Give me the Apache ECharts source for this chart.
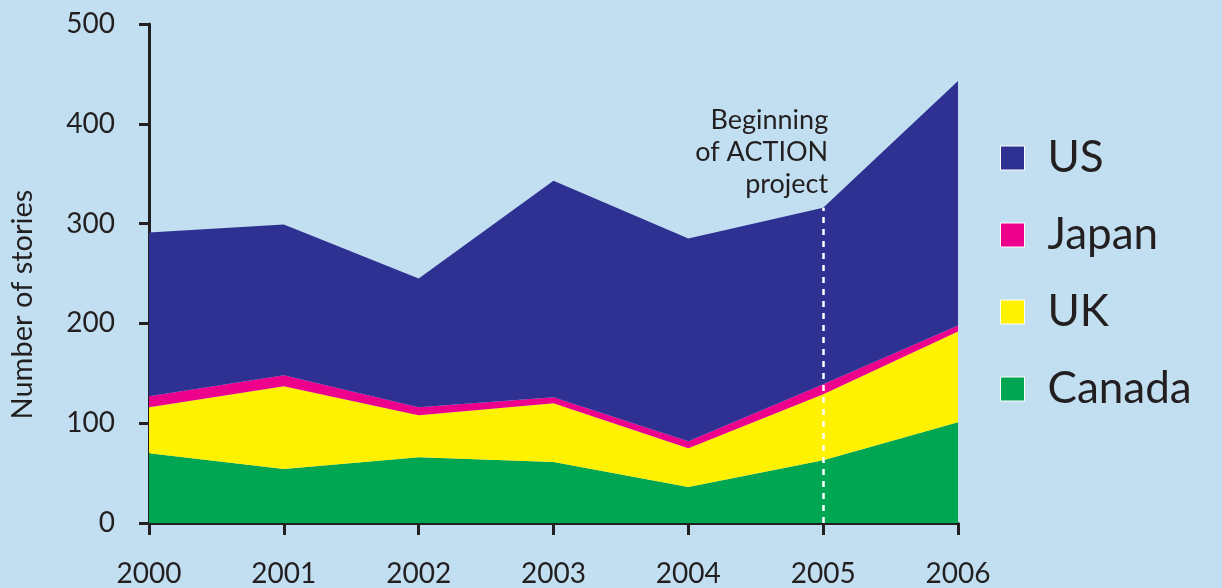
<!DOCTYPE html>
<html>
<head>
<meta charset="utf-8">
<script src="https://cdn.jsdelivr.net/npm/echarts@6/dist/echarts.min.js"></script>
<style>
  html, body { margin: 0; padding: 0; background: #c1dff0; }
  #chart { width: 1222px; height: 588px; }
</style>
</head>
<body>
<div id="chart"></div>
<script>
var years = ['2000', '2001', '2002', '2003', '2004', '2005', '2006']
var canada = [70, 54, 66, 61, 36, 63, 101]
var uk = [46, 83, 42, 59, 39, 66, 91]
var japan = [11, 11, 8, 6, 7, 10, 6]
var us = [164, 151, 129, 217, 203, 177, 245]
var markYear = '2005'
var markText = 'Beginning\nof ACTION\nproject'

var ink = '#231f20'
var font = 'Lato'

// top of the stack at the marked year
var mi = years.indexOf(markYear)
var markTop = canada[mi] + uk[mi] + japan[mi] + us[mi]

var chart = echarts.init(document.getElementById('chart'))

function area(name, data, color) {
  return {
    name: name,
    type: 'line',
    stack: 'total',
    data: data,
    symbol: 'none',
    lineStyle: { width: 0 },
    itemStyle: { color: color },
    areaStyle: { color: color, opacity: 1 },
    animation: false
  }
}

var usSeries = area('US', us, '#2e3192')
usSeries.markLine = {
  symbol: 'none',
  silent: true,
  animation: false,
  lineStyle: { color: '#ffffff', width: 2.5, type: [6, 6] },
  label: {
    show: true,
    position: 'end',
    formatter: markText,
    align: 'right',
    verticalAlign: 'bottom',
    offset: [5, -2],
    color: ink,
    fontFamily: font,
    fontSize: 27,
    lineHeight: 32
  },
  data: [[{ coord: [markYear, 0] }, { coord: [markYear, markTop] }]]
}

chart.setOption({
  backgroundColor: '#c1dff0',
  grid: {
    left: 147,
    right: 264,
    top: 24,
    bottom: 64
  },
  legend: {
    data: ['US', 'Japan', 'UK', 'Canada'],
    orient: 'vertical',
    left: 995,
    top: 131,
    itemWidth: 24,
    itemHeight: 24,
    itemGap: 33,
    icon: 'rect',
    itemStyle: { borderColor: '#ffffff', borderWidth: 1 },
    textStyle: {
      color: ink,
      fontFamily: font,
      fontSize: 44,
      lineHeight: 44,
      padding: [0, 0, 0, 18]
    }
  },
  xAxis: {
    type: 'category',
    data: years,
    boundaryGap: false,
    axisLine: { lineStyle: { color: ink, width: 3 } },
    axisTick: { length: 12, lineStyle: { color: ink, width: 3 } },
    axisLabel: {
      color: ink,
      fontFamily: font,
      fontSize: 28,
      margin: 37
    }
  },
  yAxis: {
    type: 'value',
    min: 0,
    max: 500,
    interval: 100,
    name: 'Number of stories',
    nameLocation: 'middle',
    nameGap: 112,
    nameTextStyle: {
      color: ink,
      fontFamily: font,
      fontSize: 29,
      padding: [0, 62, 0, 0]
    },
    splitLine: { show: false },
    axisLine: { show: true, lineStyle: { color: ink, width: 3 } },
    axisTick: { show: true, length: 10, lineStyle: { color: ink, width: 3 } },
    axisLabel: {
      color: ink,
      fontFamily: font,
      fontSize: 28,
      margin: 34
    }
  },
  series: [
    area('Canada', canada, '#00a651'),
    area('UK', uk, '#fff200'),
    area('Japan', japan, '#ec008c'),
    usSeries
  ]
})
</script>
</body>
</html>
